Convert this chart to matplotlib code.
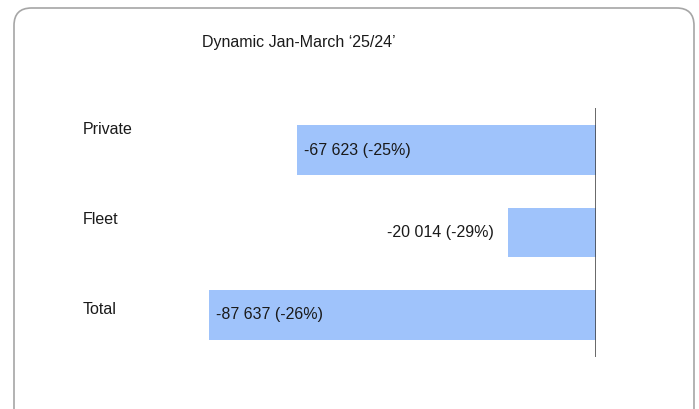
import matplotlib.pyplot as plt
from matplotlib.patches import FancyBboxPatch

plt.rcParams['font.family'] = ['Liberation Sans', 'DejaVu Sans']

categories = ["Private", "Fleet", "Total"]
values = [-67623, -20014, -87637]
pct = ["-25%", "-29%", "-26%"]
title = "Dynamic Jan-March \u201825/24\u2019"

W, H = 699, 409
fig = plt.figure(figsize=(W / 100, H / 100), dpi=100)

# rounded frame, open at the bottom edge
box = FancyBboxPatch((14 / W, -20 / H), 680 / W, (H - 8 + 20) / H,
                     boxstyle="round,pad=0,rounding_size=0.025",
                     transform=fig.transFigure, facecolor="white",
                     edgecolor="#a6a6a6", linewidth=1.2, mutation_aspect=W / H,
                     zorder=-1)
fig.patches.append(box)

ax = fig.add_axes([180 / W, 1 - 357 / H, 416 / W, 249 / H])
ax.set_zorder(2)
ax.set_facecolor("none")
y = list(range(len(categories)))
ax.barh(y, values, height=0.6, color="#9fc3fb")
ax.set_ylim(2.51, -0.51)
ax.set_xlim(-94200, 0)
ax.axvline(0, color="#3a3a3a", linewidth=1.8)
for s in ax.spines.values():
    s.set_visible(False)
ax.set_xticks([])
ax.set_yticks([])

fs = 11.5
span = 94200 / 416  # data units per pixel
for i, (v, p) in enumerate(zip(values, pct)):
    txt = f"{v:,}".replace(",", " ") + f" ({p})"
    if abs(v) > 40000:
        ax.text(v + 7 * span, i, txt, ha="left", va="center", fontsize=fs, color="#1a1a1a")
    else:
        ax.text(v - 14 * span, i, txt, ha="right", va="center", fontsize=fs, color="#1a1a1a")

label_y = [129, 219, 309]
for name, ly in zip(categories, label_y):
    fig.text(83 / W, 1 - ly / H, name, ha="left", va="center", fontsize=fs, color="#1a1a1a")

fig.text(202 / W, 1 - 43 / H, title, ha="left", va="center", fontsize=fs, color="#1a1a1a")

fig.savefig("out.png", dpi=100)
